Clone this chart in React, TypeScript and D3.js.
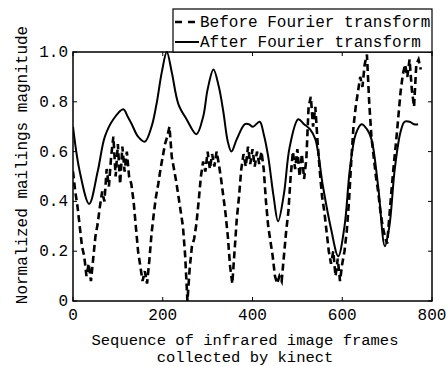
import React from "react";
import * as d3 from "d3";

const beforeX: number[] = d3.range(0, 780, 5);
const beforeY: number[] = [
  0.52, 0.44, 0.38, 0.30, 0.22, 0.18, 0.10, 0.15, 0.08, 0.17,
  0.26, 0.31, 0.38, 0.44, 0.40, 0.53, 0.46, 0.58, 0.66, 0.50,
  0.63, 0.47, 0.62, 0.52, 0.60, 0.50, 0.47, 0.40, 0.30, 0.20,
  0.14, 0.08, 0.12, 0.07, 0.16, 0.27, 0.35, 0.42, 0.47, 0.53,
  0.58, 0.63, 0.66, 0.70, 0.58, 0.53, 0.48, 0.42, 0.36, 0.30,
  0.18, 0.00, 0.13, 0.22, 0.25, 0.31, 0.40, 0.50, 0.56, 0.52,
  0.60, 0.53, 0.59, 0.54, 0.60, 0.55, 0.49, 0.42, 0.35, 0.26,
  0.14, 0.07, 0.20, 0.33, 0.42, 0.53, 0.59, 0.54, 0.62, 0.55,
  0.61, 0.54, 0.60, 0.55, 0.60, 0.53, 0.40, 0.30, 0.24, 0.18,
  0.10, 0.07, 0.10, 0.08, 0.18, 0.28, 0.36, 0.50, 0.60, 0.53,
  0.61, 0.50, 0.59, 0.49, 0.57, 0.78, 0.82, 0.70, 0.78, 0.64,
  0.52, 0.42, 0.36, 0.28, 0.20, 0.15, 0.20, 0.10, 0.17, 0.08,
  0.15, 0.20, 0.28, 0.40, 0.56, 0.70, 0.78, 0.84, 0.90, 0.86,
  0.95, 0.99, 0.80, 0.66, 0.58, 0.50, 0.44, 0.36, 0.30, 0.26,
  0.23, 0.34, 0.45, 0.55, 0.64, 0.74, 0.84, 0.91, 0.95, 0.90,
  0.97, 0.85, 0.78, 0.95, 0.97, 0.93,
];

const afterX: number[] = [
  0, 15, 36, 55, 71, 90, 112, 122, 131, 145, 160, 175, 186, 198, 209, 220,
  235, 253, 275, 290, 300, 313, 325, 335, 345, 353, 365, 383, 392, 401, 416,
  425, 435, 447, 457, 470, 483, 502, 515, 528, 540, 557, 575, 591, 605, 617,
  630, 643, 655, 665, 680, 695, 705, 717, 730, 739, 750, 760, 769,
];
const afterY: number[] = [
  0.70, 0.52, 0.39, 0.52, 0.66, 0.73, 0.77, 0.74, 0.71, 0.66, 0.64, 0.70,
  0.79, 0.92, 1.0, 0.92, 0.79, 0.73, 0.67, 0.74, 0.85, 0.93, 0.86, 0.76,
  0.64, 0.60, 0.65, 0.71, 0.71, 0.70, 0.72, 0.67, 0.58, 0.42, 0.32, 0.43,
  0.62, 0.73, 0.71, 0.69, 0.65, 0.46, 0.29, 0.18, 0.30, 0.53, 0.67, 0.71,
  0.69, 0.65, 0.46, 0.22, 0.30, 0.53, 0.68, 0.72, 0.72, 0.71, 0.71,
];

const xTicks: number[] = [0, 200, 400, 600, 800];
const yTicks: number[] = [0, 0.2, 0.4, 0.6, 0.8, 1.0];
const yTickLabels: string[] = ["0", "0.2", "0.4", "0.6", "0.8", "1.0"];
const legendLabels: string[] = ["Before Fourier transform", "After Fourier transform"];
const xLabelLines: string[] = ["Sequence of infrared image frames", "collected by kinect"];
const yLabel = "Normalized mailings magnitude";

const FONT = "'Liberation Mono', 'DejaVu Sans Mono', monospace";

export default function App() {
  const W = 447, H = 366;
  const L = 73, R = 432, T = 52, B = 301;
  const x = d3.scaleLinear().domain([0, 800]).range([L, R]);
  const y = d3.scaleLinear().domain([0, 1]).range([B, T]);

  const before = beforeX.map((v, i) => [v, beforeY[i]] as [number, number]);
  const after = afterX.map((v, i) => [v, afterY[i]] as [number, number]);

  const lineB = d3.line<[number, number]>().x(d => x(d[0])).y(d => y(d[1]));
  const lineA = d3.line<[number, number]>().x(d => x(d[0])).y(d => y(d[1])).curve(d3.curveCatmullRom.alpha(0.5));

  const tk = 4;
  const fs = 16;

  return (
    <svg width={W} height={H} style={{ position: "absolute", left: 0, top: 0, background: "#fff" }}>
      <defs>
        <clipPath id="plotclip">
          <rect x={L} y={T - 2} width={R - L} height={B - T + 4} />
        </clipPath>
      </defs>
      <g clipPath="url(#plotclip)">
        <path d={lineB(before) || ""} fill="none" stroke="#000" strokeWidth={2.6} strokeDasharray="7,4" />
        <path d={lineA(after) || ""} fill="none" stroke="#000" strokeWidth={2} />
      </g>
      <rect x={L} y={T} width={R - L} height={B - T} fill="none" stroke="#000" strokeWidth={1.5} />
      {xTicks.map(t => (
        <g key={"xt" + t}>
          <line x1={x(t)} x2={x(t)} y1={B} y2={B - tk} stroke="#000" strokeWidth={1} />
          <line x1={x(t)} x2={x(t)} y1={T} y2={T + tk} stroke="#000" strokeWidth={1} />
          <text x={x(t)} y={B + 19} textAnchor="middle" fontFamily={FONT} fontSize={fs}>{t}</text>
        </g>
      ))}
      {yTicks.map((t, i) => (
        <g key={"yt" + t}>
          <line x1={L} x2={L + tk} y1={y(t)} y2={y(t)} stroke="#000" strokeWidth={1} />
          <line x1={R} x2={R - tk} y1={y(t)} y2={y(t)} stroke="#000" strokeWidth={1} />
          <text x={68} y={y(t) + 5} textAnchor="end" fontFamily={FONT} fontSize={fs}>{yTickLabels[i]}</text>
        </g>
      ))}
      {xLabelLines.map((s, i) => (
        <text key={s} x={245} y={345 + i * 17} textAnchor="middle" fontFamily={FONT} fontSize={15.5}>{s}</text>
      ))}
      <text transform={`translate(27,165) rotate(-90)`} textAnchor="middle" fontFamily={FONT} fontSize={fs}>{yLabel}</text>
      <rect x={173} y={9} width={R - 173} height={T - 9} fill="#fff" stroke="#000" strokeWidth={1.2} />
      <line x1={175} x2={199} y1={22} y2={22} stroke="#000" strokeWidth={2.6} strokeDasharray="7,6" />
      <line x1={175} x2={199} y1={42} y2={42} stroke="#000" strokeWidth={2} />
      {legendLabels.map((s, i) => (
        <text key={s} x={200} y={27 + i * 20} fontFamily={FONT} fontSize={fs}>{s}</text>
      ))}
    </svg>
  );
}
